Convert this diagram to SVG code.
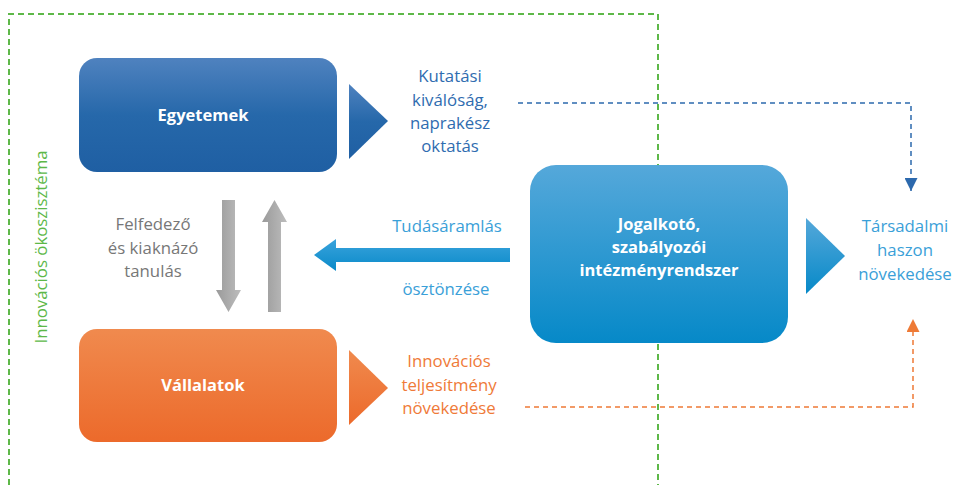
<svg xmlns="http://www.w3.org/2000/svg" width="957" height="485" viewBox="0 0 957 485">
<defs>
<linearGradient id="gBlue" x1="0" y1="0" x2="0" y2="1"><stop offset="0" stop-color="#4f82bf"/><stop offset="0.5" stop-color="#2668aa"/><stop offset="1" stop-color="#1f5fa3"/></linearGradient>
<linearGradient id="gOrange" x1="0" y1="0" x2="0" y2="1"><stop offset="0" stop-color="#f08a4e"/><stop offset="1" stop-color="#ec6a2b"/></linearGradient>
<linearGradient id="gCyan" x1="0" y1="0" x2="0" y2="1"><stop offset="0" stop-color="#55a8da"/><stop offset="1" stop-color="#0689c8"/></linearGradient>
<linearGradient id="gGray" x1="0" y1="0" x2="1" y2="0"><stop offset="0" stop-color="#9a9a9a"/><stop offset="1" stop-color="#bdbdbd"/></linearGradient>
<linearGradient id="gArrow" x1="0" y1="0" x2="0" y2="1"><stop offset="0" stop-color="#3aa3dc"/><stop offset="1" stop-color="#0a8ac9"/></linearGradient>
<marker id="mBlue" viewBox="0 0 10 10" refX="10" refY="5" markerWidth="13" markerHeight="13" markerUnits="userSpaceOnUse" orient="auto"><path d="M0,0 L10,5 L0,10 z" fill="#2c69ad"/></marker>
<marker id="mOrange" viewBox="0 0 10 10" refX="10" refY="5" markerWidth="13" markerHeight="13" markerUnits="userSpaceOnUse" orient="auto"><path d="M0,0 L10,5 L0,10 z" fill="#ee7a36"/></marker>
</defs>
<style>
text{font-family:"Open Sans","Liberation Sans",sans-serif;text-anchor:middle}
.lbl{font-size:16.5px;font-weight:bold;fill:#ffffff}
.t{font-size:16.8px}
.dash{fill:none;stroke-width:1.5;stroke-dasharray:5 4}
</style>
<g id="ecosystem">
<path d="M9,485 V14 H658 V485" fill="none" stroke="#5db848" stroke-width="2" stroke-dasharray="6 4"/>
<text x="42" y="247" transform="rotate(-90 42 247)" class="t" fill="#5db848" dominant-baseline="middle">Innovációs ökoszisztéma</text>
</g>
<g id="connectors">
<path class="dash" stroke="#2c69ad" d="M518,103 H911 V191" marker-end="url(#mBlue)"/>
<path class="dash" stroke="#ee7a36" d="M525,407 H913 V319" marker-end="url(#mOrange)"/>
<polygon points="349,84 388,121 349,159" fill="url(#gBlue)"/>
<polygon points="349,350 388,388 349,425" fill="url(#gOrange)"/>
<polygon points="806,218 845,256 806,294" fill="url(#gCyan)"/>
<polygon points="222,200 235,200 235,290 241,290 228.5,312 216,290 222,290" fill="url(#gGray)"/>
<polygon points="268,312 281,312 281,222 287,222 274.5,200 262,222 268,222" fill="url(#gGray)"/>
<polygon points="510,248 336,248 336,239 314,255 336,271 336,262 510,262" fill="url(#gArrow)"/>
</g>
<g id="egyetemek">
<rect x="79" y="58" width="258" height="114" rx="18" fill="url(#gBlue)"/>
<text x="203" y="121" class="lbl">Egyetemek</text>
</g>
<g id="vallalatok">
<rect x="79" y="329" width="258" height="113" rx="18" fill="url(#gOrange)"/>
<text x="203" y="391" class="lbl">Vállalatok</text>
</g>
<g id="jogalkoto">
<rect x="530" y="165" width="258" height="178" rx="26" fill="url(#gCyan)"/>
<text x="659" y="230" class="lbl">Jogalkotó,</text>
<text x="659" y="253" class="lbl">szabályozói</text>
<text x="659" y="276" class="lbl">intézményrendszer</text>
</g>
<g id="labels">
<g fill="#2f6cb0">
<text x="450" y="82" class="t">Kutatási</text>
<text x="450" y="106" class="t">kiválóság,</text>
<text x="450" y="129" class="t">naprakész</text>
<text x="450" y="152" class="t">oktatás</text>
</g>
<g fill="#ef7a38">
<text x="449" y="367" class="t">Innovációs</text>
<text x="449" y="391" class="t">teljesítmény</text>
<text x="449" y="414" class="t">növekedése</text>
</g>
<g fill="#3aa0d8">
<text x="905" y="232" class="t">Társadalmi</text>
<text x="905" y="256" class="t">haszon</text>
<text x="905" y="280" class="t">növekedése</text>
<text x="447" y="232" class="t">Tudásáramlás</text>
<text x="446" y="295" class="t">ösztönzése</text>
</g>
<g fill="#777777">
<text x="153" y="230" class="t">Felfedező</text>
<text x="153" y="254" class="t">és kiaknázó</text>
<text x="153" y="277" class="t">tanulás</text>
</g>
</g>
</svg>
